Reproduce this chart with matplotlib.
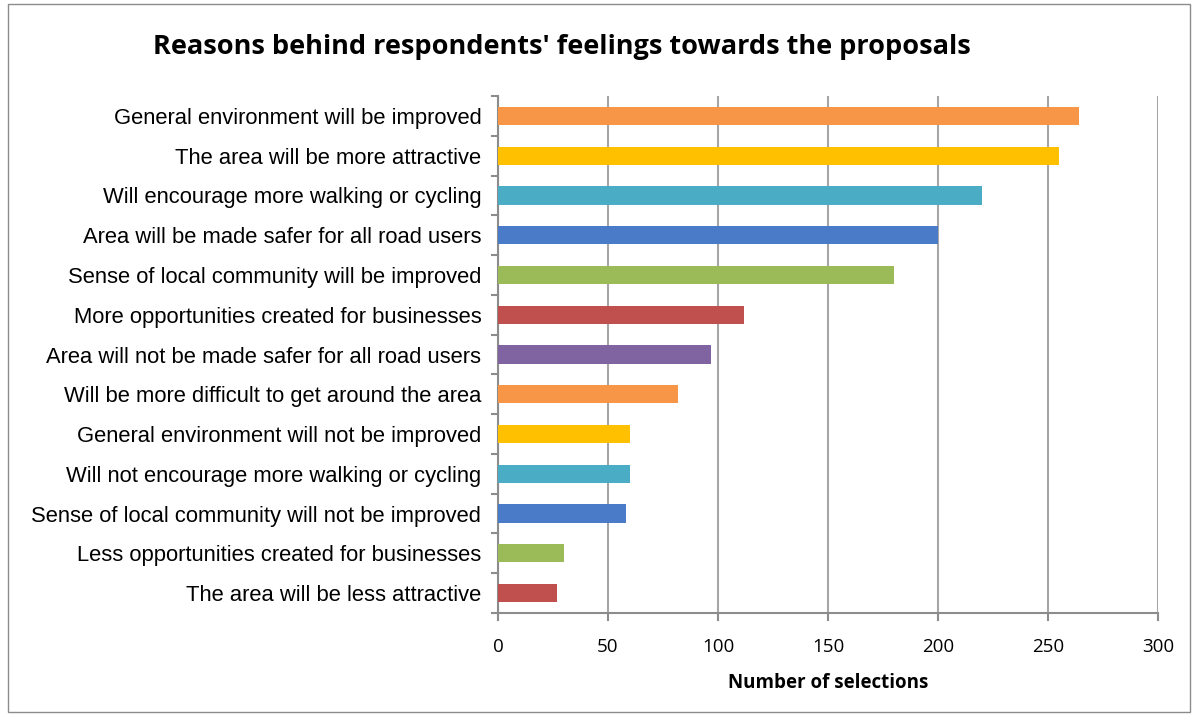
import matplotlib
matplotlib.use("Agg")
import matplotlib.pyplot as plt
from matplotlib.patches import Rectangle

# Survey reasons, listed top to bottom
reasons = [
    "General environment will be improved",
    "The area will be more attractive",
    "Will encourage more walking or cycling",
    "Area will be made safer for all road users",
    "Sense of local community will be improved",
    "More opportunities created for businesses",
    "Area will not be made safer for all road users",
    "Will be more difficult to get around the area",
    "General environment will not be improved",
    "Will not encourage more walking or cycling",
    "Sense of local community will not be improved",
    "Less opportunities created for businesses",
    "The area will be less attractive",
]
selections = [264, 255, 220, 200, 180, 112, 97, 82, 60, 60, 58, 30, 27]
bar_colors = ["#F79646", "#FFC000", "#4BACC6", "#4A7BC8", "#9BBB59", "#C0504D",
              "#8064A2", "#F79646", "#FFC000", "#4BACC6", "#4A7BC8", "#9BBB59",
              "#C0504D"]
x_ticks = [0, 50, 100, 150, 200, 250, 300]

title = "Reasons behind respondents' feelings towards the proposals"
x_title = "Number of selections"

W, H = 1192, 716
fig = plt.figure(figsize=(W / 100, H / 100), dpi=100)
fig.patch.set_facecolor("white")

# outer chart frame
fig.add_artist(Rectangle((8 / W, 4 / H), (W - 10) / W, (H - 8) / H,
                         transform=fig.transFigure, fill=False,
                         edgecolor="#8c8c8c", linewidth=1.0))

left, right, top, bottom = 498, 1158, 96, 613
ax = fig.add_axes([left / W, 1 - bottom / H, (right - left) / W, (bottom - top) / H])

n = len(reasons)
ypos = list(range(n))[::-1]
ax.barh(ypos, selections, height=0.46, color=bar_colors, zorder=3)

ax.set_xlim(0, 300)
ax.set_ylim(-0.5, n - 0.5)
ax.set_xticks(x_ticks)
ax.set_xticklabels([str(t) for t in x_ticks], fontsize=13.5, family="Open Sans")
ax.set_yticks(ypos)
ax.set_yticklabels(reasons, fontsize=15.8, family="Liberation Sans")
ax.tick_params(axis="y", length=0, pad=12)
ax.tick_params(axis="x", length=6, width=1.5, color="#8c8c8c", pad=12,
               direction="out")

# category boundary ticks on the value axis
for b in range(n + 1):
    ax.plot([-0.009, 0], [b - 0.5, b - 0.5], transform=ax.get_yaxis_transform(),
            color="#8c8c8c", lw=1.5, clip_on=False, zorder=4)

ax.grid(axis="x", color="#a6a6a6", linewidth=1.5, zorder=0)
for s in ["top", "right"]:
    ax.spines[s].set_visible(False)
for s in ["left", "bottom"]:
    ax.spines[s].set_color("#8c8c8c")
    ax.spines[s].set_linewidth(1.5)

ax.set_xlabel(x_title, fontsize=13.5, fontweight="bold", family="Open Sans",
              labelpad=12)
fig.text(562 / W, 1 - 47 / H, title, ha="center", va="center",
         fontsize=19.5, fontweight="bold", family="Open Sans")

fig.savefig("out.png", dpi=100)
